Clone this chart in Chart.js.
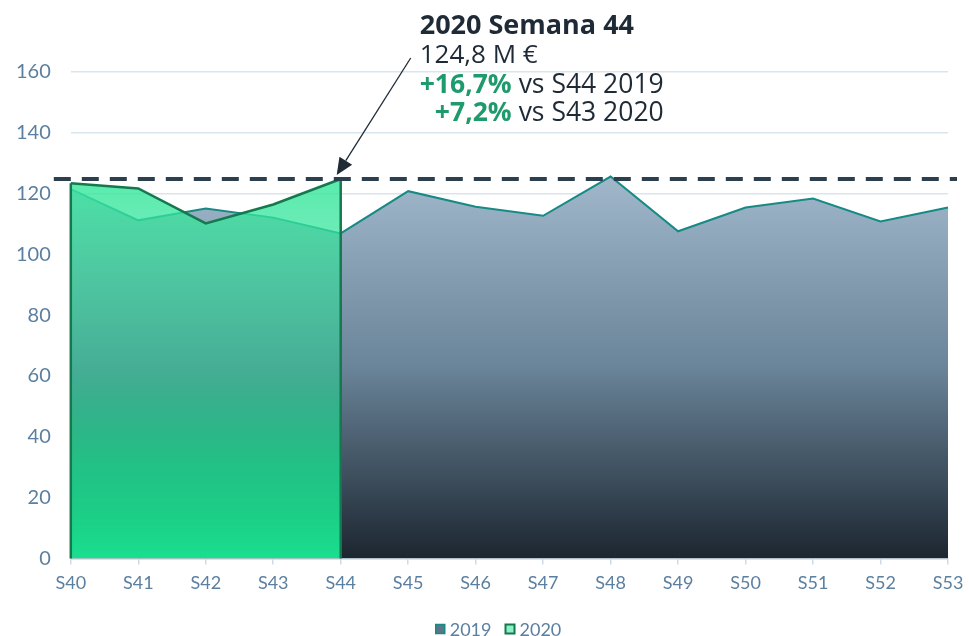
<!DOCTYPE html>
<html>
<head>
<meta charset="utf-8">
<script src="https://cdn.jsdelivr.net/npm/chart.js@4.4.1/dist/chart.umd.min.js"></script>
<style>
  html, body { margin: 0; padding: 0; background: #ffffff; }
  #wrap { width: 969px; height: 636px; position: relative; }
</style>
</head>
<body>
<div id="wrap"><canvas id="c" width="969" height="636"></canvas></div>
<script>
// ---- Data ----
const weeks = ['S40','S41','S42','S43','S44','S45','S46','S47','S48','S49','S50','S51','S52','S53'];
const values2019 = [121.5, 111.2, 115.1, 112.1, 106.9, 120.8, 115.7, 112.7, 125.6, 107.6, 115.4, 118.4, 110.8, 115.4];
const values2020 = [123.4, 121.7, 110.2, 116.4, 124.8];
const yTicks = [0, 20, 40, 60, 80, 100, 120, 140, 160];
const seriesNames = ['2019', '2020'];
const annotationLines = ['2020 Semana 44', '124,8 M €', ['+16,7%', ' vs S44 2019'], ['+7,2%', ' vs S43 2020']];

function grad2019(ctx) {
  const chart = ctx.chart; const ca = chart.chartArea;
  if (!ca) return '#7d97ab';
  const y = chart.scales.y;
  const g = chart.ctx.createLinearGradient(0, y.getPixelForValue(126), 0, y.getPixelForValue(0));
  g.addColorStop(0, '#a1b8cb');
  g.addColorStop(0.5, '#6a8499');
  g.addColorStop(1, '#1c2630');
  return g;
}
function grad2020(ctx) {
  const chart = ctx.chart; const ca = chart.chartArea;
  if (!ca) return '#4be6a6';
  const y = chart.scales.y;
  const g = chart.ctx.createLinearGradient(0, y.getPixelForValue(125), 0, y.getPixelForValue(0));
  g.addColorStop(0, 'rgba(60,232,160,0.85)');
  g.addColorStop(0.25, 'rgba(45,225,150,0.62)');
  g.addColorStop(0.5, 'rgba(30,220,145,0.47)');
  g.addColorStop(0.75, 'rgba(26,223,143,0.78)');
  g.addColorStop(1, 'rgba(26,223,143,1)');
  return g;
}

const FONT = '"Open Sans"';
const FS = 26.5;
const legendItems = [
  { fill: '#5d7589', stroke: '#168a84', lw: 1.5 },
  { fill: '#8cf2c6', stroke: '#15784f', lw: 2 }
];

const edgePlugin = {
  id: 'edges',
  afterDatasetsDraw(chart) {
    const ctx = chart.ctx;
    const y = chart.scales.y;
    const pts = chart.getDatasetMeta(1).data;
    const y0 = y.getPixelForValue(0);
    ctx.save();
    ctx.strokeStyle = '#15784f';
    ctx.lineWidth = 2.5;
    [pts[0], pts[pts.length - 1]].forEach(p => {
      ctx.beginPath(); ctx.moveTo(p.x, p.y); ctx.lineTo(p.x, y0); ctx.stroke();
    });
    ctx.restore();
  },
  afterDraw(chart) {
    const ctx = chart.ctx;
    const y = chart.scales.y;
    const pts = chart.getDatasetMeta(1).data;
    ctx.save();
    // dashed reference line at latest 2020 value
    const last = values2020[values2020.length - 1];
    const yl = y.getPixelForValue(last);
    const ca = chart.chartArea;
    ctx.strokeStyle = '#2b3f4e';
    ctx.lineWidth = 4;
    ctx.setLineDash([17, 11]);
    ctx.beginPath(); ctx.moveTo(ca.left - 17, yl); ctx.lineTo(ca.right + 9, yl); ctx.stroke();
    ctx.setLineDash([]);
    // arrow + annotation
    const p = pts[pts.length - 1];
    const tipX = p.x - 4, tipY = p.y - 4;
    const sx = p.x + 70, sy = p.y - 121;
    ctx.strokeStyle = '#1e2a36'; ctx.fillStyle = '#1e2a36'; ctx.lineWidth = 1.3;
    const ang = Math.atan2(tipY - sy, tipX - sx);
    const hl = 17, hw = 7.5;
    const bx = tipX - hl * Math.cos(ang), by = tipY - hl * Math.sin(ang);
    ctx.beginPath(); ctx.moveTo(sx, sy); ctx.lineTo(bx, by); ctx.stroke();
    ctx.beginPath();
    ctx.moveTo(tipX, tipY);
    ctx.lineTo(bx + hw * Math.sin(ang), by - hw * Math.cos(ang));
    ctx.lineTo(bx - hw * Math.sin(ang), by + hw * Math.cos(ang));
    ctx.closePath(); ctx.fill();

    const lx = p.x + 79, rx = p.x + 323;
    const base = [p.y - 145, p.y - 116, p.y - 86, p.y - 58];
    ctx.textBaseline = 'alphabetic';
    ctx.textAlign = 'left';
    ctx.fillStyle = '#1e2a36';
    ctx.font = 'bold 27px ' + FONT;
    ctx.fillText(annotationLines[0], lx, base[0]);
    ctx.font = '26px ' + FONT;
    ctx.fillText(annotationLines[1], lx, base[1]);
    [2, 3].forEach(i => {
      const [a, b] = annotationLines[i];
      ctx.font = FS + 'px ' + FONT;
      const wb = ctx.measureText(b).width;
      ctx.font = 'bold ' + FS + 'px ' + FONT;
      const wa = ctx.measureText(a).width;
      ctx.fillStyle = '#1f9a6d';
      ctx.fillText(a, rx - wb - wa, base[i]);
      ctx.font = FS + 'px ' + FONT;
      ctx.fillStyle = '#1e2a36';
      ctx.fillText(b, rx - wb, base[i]);
    });

    // legend
    ctx.font = '18px Lato';
    ctx.textBaseline = 'middle';
    ctx.textAlign = 'left';
    const box = 9, gap = 5, itemGap = 14;
    const widths = seriesNames.map(n => box + gap + ctx.measureText(n).width);
    const total = widths.reduce((a, b) => a + b, 0) + itemGap * (seriesNames.length - 1);
    let x = chart.width / 2 + 14 - total / 2;
    const cy = 629;
    seriesNames.forEach((n, i) => {
      const it = legendItems[i];
      ctx.fillStyle = it.fill;
      ctx.fillRect(x, cy - box / 2, box, box);
      ctx.strokeStyle = it.stroke; ctx.lineWidth = it.lw;
      ctx.strokeRect(x, cy - box / 2, box, box);
      ctx.fillStyle = '#5b7fa0';
      ctx.fillText(n, x + box + gap, cy + 1);
      x += widths[i] + itemGap;
    });
    ctx.restore();
  }
};

new Chart(document.getElementById('c'), {
  type: 'line',
  data: {
    labels: weeks,
    datasets: [
      {
        label: seriesNames[0], data: values2019, order: 1,
        borderColor: '#168a84', borderWidth: 2, backgroundColor: grad2019,
        fill: 'origin', pointRadius: 0, tension: 0
      },
      {
        label: seriesNames[1], data: values2020, order: 0,
        borderColor: '#15784f', borderWidth: 2.5, backgroundColor: grad2020,
        fill: 'origin', pointRadius: 0, tension: 0
      }
    ]
  },
  options: {
    responsive: false,
    animation: false,
    layout: { padding: { top: 72, right: 21, left: 0, bottom: 34 } },
    plugins: {
      tooltip: { enabled: false },
      legend: { display: false }
    },
    scales: {
      x: {
        offset: false,
        afterFit: (s) => { s.paddingRight = 0; },
        grid: { drawOnChartArea: false, color: '#cfdbe6', tickLength: 6, lineWidth: 1.5 },
        border: { color: '#c8d6e2', width: 1.5 },
        ticks: { font: { family: 'Lato', size: 18 }, color: '#5b7fa0', padding: 8, maxRotation: 0, autoSkip: false }
      },
      y: {
        min: 0, max: 160, z: 1,
        afterBuildTicks: (s) => { s.ticks = yTicks.map(v => ({ value: v })); },
        afterFit: (s) => { s.width -= 4; },
        grid: { color: 'rgba(120,160,190,0.28)', lineWidth: 1.5, drawTicks: false },
        border: { display: false },
        ticks: { font: { family: 'Lato', size: 20 }, color: '#5b7fa0', padding: 20 }
      }
    }
  },
  plugins: [edgePlugin]
});
</script>
</body>
</html>
